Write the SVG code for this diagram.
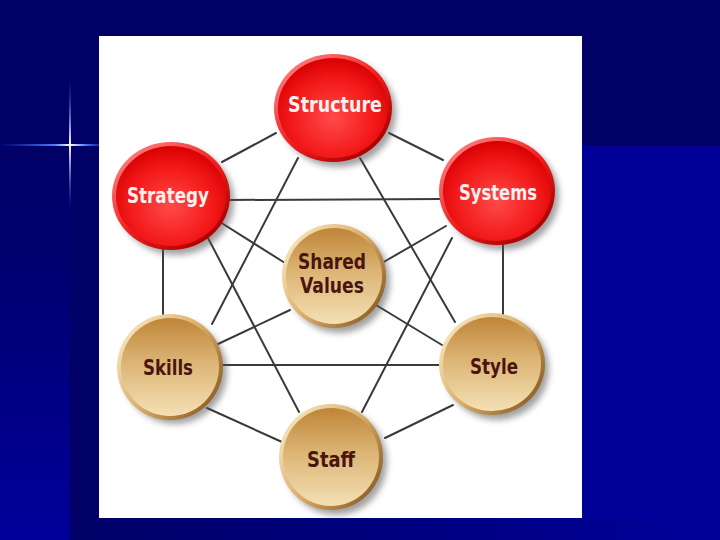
<svg xmlns="http://www.w3.org/2000/svg" width="720" height="540" viewBox="0 0 720 540">
<defs>
<linearGradient id="leftStrip" x1="0" y1="0" x2="0" y2="1">
<stop offset="0" stop-color="#000066"/><stop offset="0.3" stop-color="#000070"/><stop offset="1" stop-color="#00009a"/>
</linearGradient>
<linearGradient id="bottomBand" x1="0" y1="0" x2="1" y2="0">
<stop offset="0" stop-color="#000066"/><stop offset="1" stop-color="#000099"/>
</linearGradient>
<linearGradient id="flareH" x1="0" y1="0" x2="1" y2="0">
<stop offset="0" stop-color="#3060ff" stop-opacity="0"/><stop offset="0.55" stop-color="#4d7dff"/><stop offset="0.7" stop-color="#ffffff"/><stop offset="0.85" stop-color="#4d7dff"/><stop offset="1" stop-color="#3060ff" stop-opacity="0.4"/>
</linearGradient>
<linearGradient id="flareV" x1="0" y1="0" x2="0" y2="1">
<stop offset="0" stop-color="#3060ff" stop-opacity="0"/><stop offset="0.5" stop-color="#ffffff"/><stop offset="1" stop-color="#3060ff" stop-opacity="0"/>
</linearGradient>
<linearGradient id="redRim" x1="0.15" y1="0.1" x2="0.85" y2="0.9">
<stop offset="0" stop-color="#ff7a7a"/><stop offset="0.5" stop-color="#f02020"/><stop offset="1" stop-color="#a80000"/>
</linearGradient>
<radialGradient id="redFace" cx="0.5" cy="0.6" r="0.6">
<stop offset="0" stop-color="#ff4a4a"/><stop offset="0.6" stop-color="#f41c1c"/><stop offset="1" stop-color="#d80000"/>
</radialGradient>
<linearGradient id="tanRim" x1="0.1" y1="0.2" x2="0.9" y2="0.8">
<stop offset="0" stop-color="#f4dfb4"/><stop offset="0.5" stop-color="#d9ad6a"/><stop offset="1" stop-color="#94652a"/>
</linearGradient>
<linearGradient id="tanFace" x1="0" y1="0" x2="0" y2="1">
<stop offset="0" stop-color="#bf8538"/><stop offset="0.45" stop-color="#dcb474"/><stop offset="1" stop-color="#f4e0b4"/>
</linearGradient>
<filter id="shadow" x="-30%" y="-30%" width="160%" height="160%">
<feGaussianBlur stdDeviation="3"/>
</filter>
</defs>
<style>
.lbl{font-family:"DejaVu Sans Condensed","DejaVu Sans","Liberation Sans",sans-serif;font-weight:bold;text-anchor:middle}
.red{fill:#fff0f0;font-size:21px}
.tan{fill:#4a1510;font-size:21px}
.sh{fill:#555;opacity:0.55;filter:url(#shadow)}
#connectors line{stroke:#3a3a3a;stroke-width:2;stroke-linecap:round}
</style>

<!-- slide background -->
<rect x="0" y="0" width="720" height="540" fill="#000099"/>
<rect x="0" y="0" width="720" height="146" fill="#000066"/>
<rect x="0" y="146" width="70" height="394" fill="url(#leftStrip)"/>
<rect x="70" y="146" width="30" height="394" fill="#000066"/>
<rect x="70" y="518" width="650" height="22" fill="url(#bottomBand)"/>
<rect x="0" y="144" width="100" height="2" fill="url(#flareH)"/>
<rect x="69" y="80" width="2" height="130" fill="url(#flareV)"/>

<!-- white panel -->
<rect x="99" y="36" width="483" height="482" fill="#ffffff"/>

<g id="connectors">
<line x1="276" y1="133" x2="222" y2="162"/>
<line x1="389" y1="133" x2="443" y2="160"/>
<line x1="228" y1="200" x2="442" y2="199"/>
<line x1="163" y1="248" x2="163" y2="320"/>
<line x1="503" y1="243" x2="503" y2="320"/>
<line x1="220" y1="365" x2="442" y2="365"/>
<line x1="207" y1="408" x2="282" y2="442"/>
<line x1="453" y1="405" x2="385" y2="438"/>
<line x1="298" y1="158" x2="212" y2="324"/>
<line x1="360" y1="158" x2="455" y2="322"/>
<line x1="208" y1="238" x2="299" y2="412"/>
<line x1="452" y1="238" x2="362" y2="412"/>
<line x1="220" y1="222" x2="285" y2="263"/>
<line x1="446" y1="226" x2="382" y2="263"/>
<line x1="218" y1="344" x2="290" y2="310"/>
<line x1="442" y1="345" x2="376" y2="305"/>
</g>

<g id="structure">
<ellipse class="sh" cx="338" cy="113" rx="58" ry="54"/>
<ellipse cx="333" cy="108" rx="59" ry="54" fill="url(#redRim)"/>
<ellipse cx="333" cy="108" rx="55" ry="50" fill="url(#redFace)"/>
<text class="lbl red" x="335" y="112" textLength="94" lengthAdjust="spacingAndGlyphs">Structure</text>
</g>

<g id="strategy">
<ellipse class="sh" cx="176" cy="201" rx="58" ry="54"/>
<ellipse cx="171" cy="196" rx="59" ry="54" fill="url(#redRim)"/>
<ellipse cx="171" cy="196" rx="55" ry="50" fill="url(#redFace)"/>
<text class="lbl red" x="168" y="203" textLength="82" lengthAdjust="spacingAndGlyphs">Strategy</text>
</g>

<g id="systems">
<ellipse class="sh" cx="502" cy="196" rx="57" ry="54"/>
<ellipse cx="497" cy="191" rx="58" ry="54" fill="url(#redRim)"/>
<ellipse cx="497" cy="191" rx="54" ry="50" fill="url(#redFace)"/>
<text class="lbl red" x="498" y="200" textLength="78" lengthAdjust="spacingAndGlyphs">Systems</text>
</g>

<g id="shared-values">
<ellipse class="sh" cx="339" cy="281" rx="51" ry="52"/>
<ellipse cx="334" cy="276" rx="52" ry="52" fill="url(#tanRim)"/>
<ellipse cx="334" cy="276" rx="48" ry="48" fill="url(#tanFace)"/>
<text class="lbl tan" x="332" y="269" textLength="68" lengthAdjust="spacingAndGlyphs">Shared</text>
<text class="lbl tan" x="332" y="293" textLength="64" lengthAdjust="spacingAndGlyphs">Values</text>
</g>

<g id="skills">
<ellipse class="sh" cx="175" cy="372" rx="52" ry="52"/>
<ellipse cx="170" cy="367" rx="53" ry="53" fill="url(#tanRim)"/>
<ellipse cx="170" cy="367" rx="49" ry="49" fill="url(#tanFace)"/>
<text class="lbl tan" x="168" y="375" textLength="50" lengthAdjust="spacingAndGlyphs">Skills</text>
</g>

<g id="style">
<ellipse class="sh" cx="497" cy="369" rx="52" ry="51"/>
<ellipse cx="492" cy="364" rx="53" ry="51" fill="url(#tanRim)"/>
<ellipse cx="492" cy="364" rx="49" ry="47" fill="url(#tanFace)"/>
<text class="lbl tan" x="494" y="374" textLength="48" lengthAdjust="spacingAndGlyphs">Style</text>
</g>

<g id="staff">
<ellipse class="sh" cx="336" cy="462" rx="51" ry="53"/>
<ellipse cx="331" cy="457" rx="52" ry="53" fill="url(#tanRim)"/>
<ellipse cx="331" cy="457" rx="48" ry="49" fill="url(#tanFace)"/>
<text class="lbl tan" x="331" y="467" textLength="48" lengthAdjust="spacingAndGlyphs">Staff</text>
</g>
</svg>
